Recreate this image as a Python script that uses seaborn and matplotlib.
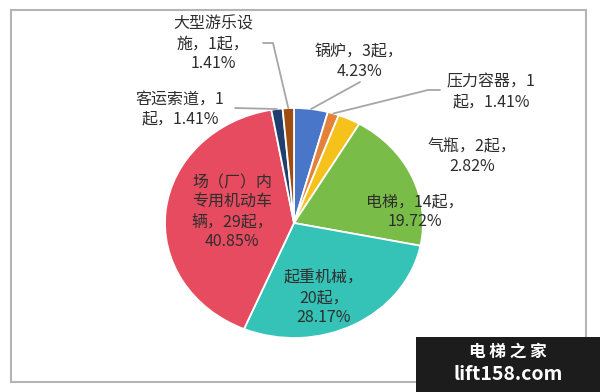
import matplotlib
matplotlib.use("Agg")
import matplotlib.pyplot as plt
import seaborn as sns
import numpy as np
from matplotlib.patches import Rectangle
from matplotlib.lines import Line2D

# ---- data ----
categories = ["锅炉", "压力容器", "气瓶", "电梯", "起重机械",
              "场（厂）内专用机动车辆", "客运索道", "大型游乐设施"]
counts = [3, 1, 2, 14, 20, 29, 1, 1]
percents = ["4.23%", "1.41%", "2.82%", "19.72%", "28.17%", "40.85%", "1.41%", "1.41%"]
label_texts = [
    "锅炉，3起，\n4.23%",
    "压力容器，1\n起，1.41%",
    "气瓶，2起，\n2.82%",
    "电梯，14起，\n19.72%",
    "起重机械，\n20起，\n28.17%",
    "场（厂）内\n专用机动车\n辆，29起，\n40.85%",
    "客运索道，1\n起，1.41%",
    "大型游乐设\n施，1起，\n1.41%",
]
colors = ["#4A76C9", "#E5823A", "#F5C21B", "#79BC48", "#36C3B7",
          "#E64B5F", "#213F6E", "#A04D12"]

sns.set_theme(style="white")
plt.rcParams["font.family"] = ["Noto Sans CJK SC", "DejaVu Sans"]

W, H = 600, 392
fig = plt.figure(figsize=(W / 100, H / 100), dpi=100)
fig.patch.set_facecolor("white")

def fx(px):
    return px / W

def fy(py):
    return 1 - py / H

# frame
fig.patches.append(Rectangle((fx(11), fy(382)), fx(586) - fx(11), fy(10) - fy(382),
                             transform=fig.transFigure, fill=False,
                             edgecolor="#B4B4B4", linewidth=1.5, zorder=0))

# pie axes (slightly stretched horizontally like the reference)
ax = fig.add_axes([fx(165), fy(338), (423 - 165) / W, (338 - 108) / H])
wedges, _ = ax.pie(counts, colors=colors, startangle=90, counterclock=False,
                   wedgeprops=dict(edgecolor="white", linewidth=1.3))
ax.set_aspect("auto")
ax.set_xlim(-1, 1)
ax.set_ylim(-1, 1)
ax.axis("off")

# label positions in figure pixels (centre of text block)
label_pos = [(359, 62), (491, 92), (472, 157), (415, 212), (324, 298),
             (232, 212), (180, 109), (213, 44)]
txt_color = "#2E2E2E"
for text, (px, py) in zip(label_texts, label_pos):
    fig.text(fx(px), fy(py), text, ha="center", va="center", multialignment="center",
             fontsize=11.5, color=txt_color, linespacing=1.2)

# leader lines: from text to wedge mid-point on the rim
total = sum(counts)
cum = np.cumsum([0] + counts)
line_color = "#A6A6A6"
leader = {0: [(360, 82)], 1: [(440, 90), (428, 90)], 6: [(235, 108)], 7: [(263, 43), (273, 43)]}
for i, pts in leader.items():
    mid = (cum[i] + cum[i + 1]) / 2 / total * 2 * np.pi
    xd, yd = np.sin(mid), np.cos(mid)
    rim = ax.transData.transform((xd, yd))
    xs = [fx(p[0]) for p in pts] + [rim[0] / W]
    ys = [fy(p[1]) for p in pts] + [rim[1] / H]
    fig.lines.append(Line2D(xs, ys, transform=fig.transFigure, color=line_color,
                            linewidth=1.3, zorder=1))

# watermark
fig.patches.append(Rectangle((fx(416), fy(392)), fx(600) - fx(416), fy(337) - fy(392),
                             transform=fig.transFigure, facecolor="#1C1C1C",
                             edgecolor="none", zorder=5))
fig.text(fx(508), fy(352), "电 梯 之 家", ha="center", va="center", color="white",
         fontsize=12, fontweight="bold", zorder=6)
fig.text(fx(508), fy(375), "lift158.com", ha="center", va="center", color="white",
         fontsize=14, fontweight="bold", zorder=6)

fig.savefig("out.png", dpi=100)
